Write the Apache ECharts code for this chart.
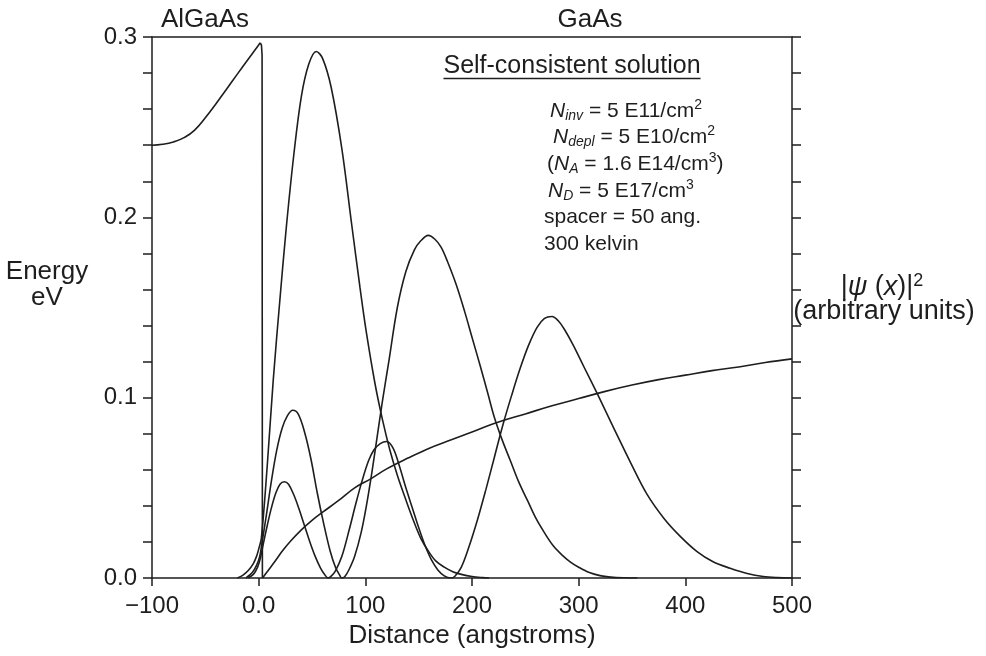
<!DOCTYPE html>
<html>
<head>
<meta charset="utf-8">
<title>Self-consistent solution</title>
<script src="https://cdn.jsdelivr.net/npm/echarts@6/dist/echarts.min.js"></script>
<style>
  html, body { margin: 0; padding: 0; background: #ffffff; }
  #chart { width: 986px; height: 656px; }
</style>
</head>
<body>
<div id="chart"></div>
<script>
// Tick labels
const xTickLabels = ['\u2212100', '0.0', '100', '200', '300', '400', '500'];
const yTickLabels = ['0.0', '0.1', '0.2', '0.3'];

// Conduction band edge in the AlGaAs barrier (angstrom, eV)
const barrierX = [-100, -90, -80, -70, -60, -50, -40, -30, -20, -10, 0, 1.5];
const barrierE = [0.2400, 0.2405, 0.2418, 0.2442, 0.2484, 0.2552, 0.2630, 0.2712, 0.2794, 0.2875, 0.2956, 0.2968];

// Band offset at the heterointerface
const stepX = [1.5, 2.6, 3.2, 3.5];
const stepE = [0.2968, 0.2955, 0.2900, 0.0000];

// Conduction band edge in the GaAs channel
const wellX = [3.6, 8, 15, 22, 30, 40, 50, 60, 75, 90, 105, 120, 140, 160, 180, 200, 225, 250, 275, 300, 325, 350, 375, 400, 425, 450, 475, 500];
const wellE = [0.0000, 0.0035, 0.0090, 0.0148, 0.0205, 0.0267, 0.0320, 0.0365, 0.0430, 0.0500, 0.0550, 0.0605, 0.0665, 0.0720, 0.0765, 0.0810, 0.0865, 0.0910, 0.0955, 0.0995, 0.1035, 0.1070, 0.1100, 0.1125, 0.1150, 0.1170, 0.1195, 0.1215];

// |psi|^2 of the lowest subband
const psi1X = [-20, -15, -10, -5, -2, 0, 2.5, 8, 13.7, 20, 26, 33, 40, 47, 54, 60, 68, 78, 87, 95, 101, 109, 116, 123, 130, 137, 145, 152, 159, 166, 174, 182, 190, 200, 210, 216];
const psi1 = [0.0000, 0.0015, 0.0040, 0.0080, 0.0120, 0.0160, 0.0220, 0.0620, 0.1100, 0.1550, 0.1950, 0.2350, 0.2670, 0.2850, 0.2920, 0.2880, 0.2720, 0.2380, 0.1970, 0.1610, 0.1360, 0.1080, 0.0880, 0.0710, 0.0570, 0.0450, 0.0320, 0.0220, 0.0150, 0.0095, 0.0060, 0.0035, 0.0020, 0.0008, 0.0002, 0.0000];

// |psi|^2 of the second subband
const psi2X = [-12, -6, -2, 1, 3, 7, 12, 17, 22, 27, 32, 37, 43, 49, 55, 61, 67, 72, 76, 78, 81, 85, 90, 96, 101, 106, 111, 116, 122, 130, 138, 146, 152, 159, 165, 171, 177, 185, 193, 200, 208, 215, 221, 228, 236, 244, 252, 260, 268, 276, 284, 292, 300, 310, 320, 330, 342, 355];
const psi2 = [0.0000, 0.0030, 0.0070, 0.0120, 0.0190, 0.0340, 0.0540, 0.0710, 0.0830, 0.0900, 0.0930, 0.0910, 0.0810, 0.0660, 0.0470, 0.0300, 0.0150, 0.0060, 0.0015, 0.0000, 0.0010, 0.0050, 0.0120, 0.0250, 0.0400, 0.0580, 0.0780, 0.0980, 0.1200, 0.1500, 0.1700, 0.1820, 0.1870, 0.1900, 0.1880, 0.1835, 0.1755, 0.1630, 0.1480, 0.1335, 0.1170, 0.1020, 0.0890, 0.0770, 0.0650, 0.0530, 0.0430, 0.0330, 0.0250, 0.0180, 0.0130, 0.0090, 0.0060, 0.0030, 0.0013, 0.0005, 0.0001, 0.0000];

// |psi|^2 of the third subband
const psi3X = [-10, -5, -1, 2, 4, 8, 12, 16, 20, 24, 28, 33, 38, 43, 48, 53, 58, 62, 65, 68, 72, 78, 85, 91, 97, 103, 108, 114, 120, 126, 132, 138, 144, 150, 156, 162, 168, 174, 180, 184, 190, 197, 205, 213, 221, 229, 237, 245, 253, 261, 268, 275, 281, 287, 295, 305, 318, 333, 349, 364, 380, 395, 411, 426, 442, 458, 473, 486, 500];
const psi3 = [0.0000, 0.0020, 0.0060, 0.0120, 0.0180, 0.0290, 0.0390, 0.0470, 0.0520, 0.0534, 0.0520, 0.0460, 0.0380, 0.0290, 0.0200, 0.0120, 0.0055, 0.0018, 0.0000, 0.0010, 0.0040, 0.0120, 0.0270, 0.0410, 0.0540, 0.0650, 0.0710, 0.0745, 0.0757, 0.0720, 0.0620, 0.0500, 0.0390, 0.0280, 0.0180, 0.0100, 0.0045, 0.0012, 0.0000, 0.0010, 0.0060, 0.0170, 0.0320, 0.0490, 0.0670, 0.0850, 0.1010, 0.1160, 0.1290, 0.1390, 0.1440, 0.1450, 0.1425, 0.1375, 0.1290, 0.1170, 0.1015, 0.0830, 0.0636, 0.0465, 0.0330, 0.0232, 0.0146, 0.0090, 0.0054, 0.0025, 0.0008, 0.0002, 0.0000];

const INK = '#1e1e1e';
const FONT = "'Liberation Sans', Arial, Helvetica, sans-serif";

function pairs(xs, ys) {
  return xs.map((x, i) => [x, ys[i]]);
}

function curve(name, xs, ys, smooth) {
  return {
    name: name,
    type: 'line',
    data: pairs(xs, ys),
    showSymbol: false,
    smooth: smooth,
    clip: true,
    lineStyle: { color: INK, width: 1.6 },
    emphasis: { disabled: true },
    z: 3
  };
}

function yLabel(v) {
  const k = Math.round(v / 0.02);
  return k % 5 === 0 ? yTickLabels[k / 5] : '';
}

function xLabel(v) {
  return xTickLabels[Math.round((v + 100) / 100)];
}

// width of the underlined heading
const TITLE = 'Self-consistent solution';
const TITLE_FONT = '25px ' + FONT;
const measure = document.createElement('canvas').getContext('2d');
measure.font = TITLE_FONT;
const titleW = measure.measureText(TITLE).width;
const titleCx = 572;

const chart = echarts.init(document.getElementById('chart'), null, { renderer: 'canvas' });

const rt = {
  n: { fontSize: 21, fontFamily: FONT, fill: INK },
  i: { fontSize: 21, fontFamily: FONT, fontStyle: 'italic', fill: INK },
  sub: { fontSize: 14, fontFamily: FONT, fontStyle: 'italic', fill: INK, padding: [11, 0, 0, 0] },
  sup: { fontSize: 14, fontFamily: FONT, fill: INK, padding: [0, 0, 11, 0] }
};

function noteLine(text, x, y) {
  return {
    type: 'text', x: x, y: y, silent: true,
    style: { text: text, rich: rt, textVerticalAlign: 'middle', textAlign: 'left', font: '21px ' + FONT, fill: INK }
  };
}

function label(text, x, y, size) {
  return {
    type: 'text', x: x, y: y, silent: true,
    style: { text: text, font: size + 'px ' + FONT, fill: INK, textAlign: 'center', textVerticalAlign: 'middle' }
  };
}

const option = {
  animation: false,
  backgroundColor: '#ffffff',
  grid: { left: 152, right: 194, top: 37, bottom: 78, containLabel: false },
  xAxis: [
    {
      type: 'value', min: -100, max: 500, interval: 100, position: 'bottom',
      name: 'Distance (angstroms)', nameLocation: 'middle', nameGap: 41,
      nameTextStyle: { fontFamily: FONT, fontSize: 26, color: INK },
      axisLine: { show: true, onZero: false, lineStyle: { color: INK, width: 1.5 } },
      axisTick: { show: true, inside: false, length: 8, lineStyle: { color: INK, width: 1.5 } },
      axisLabel: { show: true, formatter: xLabel, fontFamily: FONT, fontSize: 24, color: INK, margin: 16, hideOverlap: false },
      splitLine: { show: false }
    },
    {
      type: 'value', min: -100, max: 500, position: 'top',
      axisLine: { show: true, onZero: false, lineStyle: { color: INK, width: 1.5 } },
      axisTick: { show: false }, axisLabel: { show: false }, splitLine: { show: false }
    }
  ],
  yAxis: [
    {
      type: 'value', min: 0, max: 0.3, interval: 0.02, position: 'left',
      axisLine: { show: true, onZero: false, lineStyle: { color: INK, width: 1.5 } },
      axisTick: { show: true, inside: false, length: 9, lineStyle: { color: INK, width: 1.5 } },
      axisLabel: { show: true, formatter: yLabel, fontFamily: FONT, fontSize: 24, color: INK, margin: 15, hideOverlap: false },
      splitLine: { show: false }
    },
    {
      type: 'value', min: 0, max: 0.3, interval: 0.02, position: 'right',
      axisLine: { show: true, onZero: false, lineStyle: { color: INK, width: 1.5 } },
      axisTick: { show: true, inside: false, length: 9, lineStyle: { color: INK, width: 1.5 } },
      axisLabel: { show: false }, splitLine: { show: false }
    }
  ],
  series: [
    curve('barrier', barrierX, barrierE, 0.5),
    curve('step', stepX, stepE, false),
    curve('well', wellX, wellE, 0.4),
    curve('psi1', psi1X, psi1, 0.35),
    curve('psi2', psi2X, psi2, 0.35),
    curve('psi3', psi3X, psi3, 0.35)
  ],
  graphic: [
    label('AlGaAs', 205, 20, 26),
    label('GaAs', 590, 20, 26),
    label('Energy', 47, 272, 26),
    label('eV', 47, 298, 26),
    { type: 'text', x: 882, y: 287, silent: true,
      style: {
        text: '{n||}{i|\u03C8}{n| (}{i|x}{n|)|}{sup|2}',
        rich: {
          n: { fontSize: 27, fontFamily: FONT, fill: INK },
          i: { fontSize: 27, fontFamily: FONT, fontStyle: 'italic', fill: INK },
          sup: { fontSize: 18, fontFamily: FONT, fill: INK, padding: [0, 0, 12, 0] }
        },
        textAlign: 'center', textVerticalAlign: 'middle'
      } },
    label('(arbitrary units)', 884, 312, 27),
    { type: 'text', x: titleCx, y: 66, silent: true,
      style: { text: TITLE, font: TITLE_FONT, fill: INK, textAlign: 'center', textVerticalAlign: 'middle' } },
    { type: 'line', silent: true,
      shape: { x1: titleCx - titleW / 2, y1: 78.5, x2: titleCx + titleW / 2, y2: 78.5 },
      style: { stroke: INK, lineWidth: 1.3 } },
    noteLine('{i|N}{sub|inv}{n| = 5 E11/cm}{sup|2}', 550, 111),
    noteLine('{i|N}{sub|depl}{n| = 5 E10/cm}{sup|2}', 553, 137),
    noteLine('{n|(}{i|N}{sub|A}{n| = 1.6 E14/cm}{sup|3}{n|)}', 547, 164),
    noteLine('{i|N}{sub|D}{n| = 5 E17/cm}{sup|3}', 548, 191),
    noteLine('{n|spacer = 50 ang.}', 544, 217),
    noteLine('{n|300 kelvin}', 544, 244)
  ]
};

chart.setOption(option);
</script>
</body>
</html>
